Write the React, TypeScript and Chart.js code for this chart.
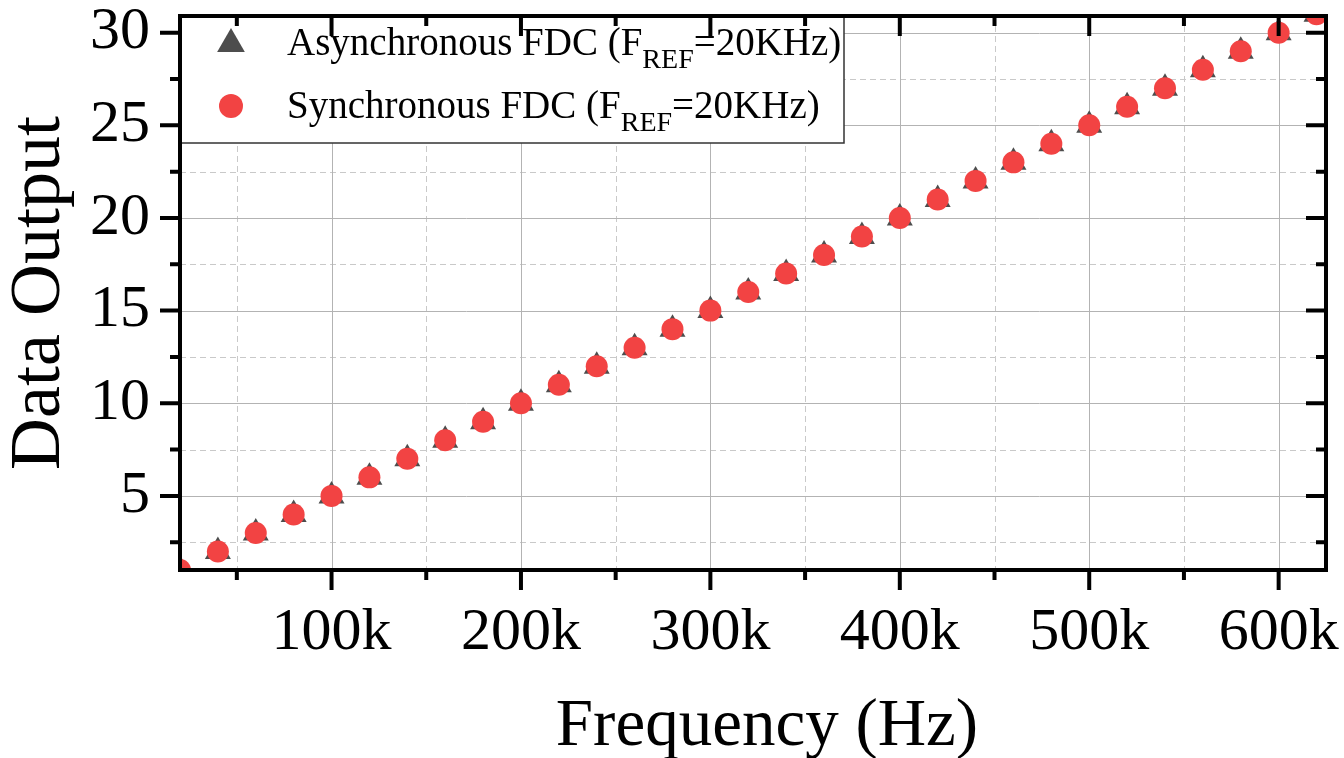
import React, { useEffect, useRef } from 'react';
import { Chart, registerables } from 'chart.js';

Chart.register(...registerables);

// ---- data ----
const frequencies = [
  20000, 40000, 60000, 80000, 100000, 120000, 140000, 160000, 180000, 200000,
  220000, 240000, 260000, 280000, 300000, 320000, 340000, 360000, 380000, 400000,
  420000, 440000, 460000, 480000, 500000, 520000, 540000, 560000, 580000, 600000, 620000,
];
const asyncOutput = [
  1, 2, 3, 4, 5, 6, 7, 8, 9, 10, 11, 12, 13, 14, 15, 16, 17, 18, 19, 20,
  21, 22, 23, 24, 25, 26, 27, 28, 29, 30, 31,
];
const syncOutput = [
  1, 2, 3, 4, 5, 6, 7, 8, 9, 10, 11, 12, 13, 14, 15, 16, 17, 18, 19, 20,
  21, 22, 23, 24, 25, 26, 27, 28, 29, 30, 31,
];
const xMajorTicks = [100000, 200000, 300000, 400000, 500000, 600000];
const xMinorTicks = [50000, 150000, 250000, 350000, 450000, 550000];
const yMajorTicks = [5, 10, 15, 20, 25, 30];
const yMinorTicks = [2.5, 7.5, 12.5, 17.5, 22.5, 27.5];
const xTitle = 'Frequency (Hz)';
const yTitle = 'Data Output';
const legendEntries = [
  { main: 'Asynchronous FDC (F', sub: 'REF', tail: '=20KHz)' },
  { main: 'Synchronous FDC (F', sub: 'REF', tail: '=20KHz)' },
];

const SERIF = '"Liberation Serif", "Times New Roman", serif';
const TRI_COLOR = '#4d4d4d';
const DOT_COLOR = '#f24343';

const zeroPadding = (s: any) => {
  s.paddingLeft = 0;
  s.paddingRight = 0;
  s.paddingTop = 0;
  s.paddingBottom = 0;
};

const decorPlugin = {
  id: 'decor',
  beforeDatasetsDraw(chart: any) {
    const { ctx, chartArea: a, scales } = chart;
    const x = scales.x;
    const y = scales.y;
    ctx.save();
    ctx.lineWidth = 1;
    // minor dashed grid
    ctx.strokeStyle = '#c9c9c9';
    ctx.setLineDash([6, 4]);
    ctx.beginPath();
    for (const v of xMinorTicks) {
      const p = Math.round(x.getPixelForValue(v)) + 0.5;
      ctx.moveTo(p, a.top);
      ctx.lineTo(p, a.bottom);
    }
    for (const v of yMinorTicks) {
      const p = Math.round(y.getPixelForValue(v)) + 0.5;
      ctx.moveTo(a.left, p);
      ctx.lineTo(a.right, p);
    }
    ctx.stroke();
    // major solid grid
    ctx.setLineDash([]);
    ctx.strokeStyle = '#b3b3b3';
    ctx.beginPath();
    for (const v of xMajorTicks) {
      const p = Math.round(x.getPixelForValue(v)) + 0.5;
      ctx.moveTo(p, a.top);
      ctx.lineTo(p, a.bottom);
    }
    for (const v of yMajorTicks) {
      const p = Math.round(y.getPixelForValue(v)) + 0.5;
      ctx.moveTo(a.left, p);
      ctx.lineTo(a.right, p);
    }
    ctx.stroke();
    ctx.restore();
  },
  afterDatasetsDraw(chart: any) {
    const { ctx, chartArea: a, scales } = chart;
    const x = scales.x;
    const y = scales.y;
    ctx.save();

    // legend box
    const lx = a.left, ly = a.top, lw = 664, lh = 127;
    ctx.fillStyle = '#ffffff';
    ctx.fillRect(lx, ly, lw, lh);
    ctx.strokeStyle = '#333333';
    ctx.lineWidth = 1.5;
    ctx.strokeRect(lx, ly, lw, lh);

    // legend markers
    ctx.fillStyle = TRI_COLOR;
    const tcx = 231, tcy = 44, tr = 16;
    ctx.beginPath();
    for (let i = 0; i < 3; i++) {
      const ang = (i * 2 * Math.PI) / 3;
      const px = tcx + Math.sin(ang) * tr;
      const py = tcy - Math.cos(ang) * tr;
      if (i === 0) ctx.moveTo(px, py);
      else ctx.lineTo(px, py);
    }
    ctx.closePath();
    ctx.fill();
    ctx.fillStyle = DOT_COLOR;
    ctx.beginPath();
    ctx.arc(231, 106, 12, 0, Math.PI * 2);
    ctx.fill();

    // legend text
    ctx.fillStyle = '#000000';
    ctx.textBaseline = 'alphabetic';
    ctx.textAlign = 'left';
    const baselines = [55, 118];
    legendEntries.forEach((e, i) => {
      let cx = 287;
      const by = baselines[i];
      ctx.font = `39px ${SERIF}`;
      ctx.fillText(e.main, cx, by);
      cx += ctx.measureText(e.main).width;
      ctx.font = `28px ${SERIF}`;
      ctx.fillText(e.sub, cx, by + 13);
      cx += ctx.measureText(e.sub).width;
      ctx.font = `39px ${SERIF}`;
      ctx.fillText(e.tail, cx, by);
    });

    // frame
    ctx.strokeStyle = '#000000';
    ctx.lineWidth = 4;
    ctx.strokeRect(a.left, a.top, a.right - a.left, a.bottom - a.top);

    // tick marks
    ctx.beginPath();
    const major = 20, minor = 10;
    for (const v of xMajorTicks) {
      const p = x.getPixelForValue(v);
      ctx.moveTo(p, a.bottom); ctx.lineTo(p, a.bottom + major);
      ctx.moveTo(p, a.top); ctx.lineTo(p, a.top + major);
    }
    for (const v of xMinorTicks) {
      const p = x.getPixelForValue(v);
      ctx.moveTo(p, a.bottom); ctx.lineTo(p, a.bottom + minor);
      ctx.moveTo(p, a.top); ctx.lineTo(p, a.top + minor);
    }
    for (const v of yMajorTicks) {
      const p = y.getPixelForValue(v);
      ctx.moveTo(a.left, p); ctx.lineTo(a.left - major, p);
      ctx.moveTo(a.right, p); ctx.lineTo(a.right - major, p);
    }
    for (const v of yMinorTicks) {
      const p = y.getPixelForValue(v);
      ctx.moveTo(a.left, p); ctx.lineTo(a.left - minor, p);
      ctx.moveTo(a.right, p); ctx.lineTo(a.right - minor, p);
    }
    ctx.stroke();

    // x axis title
    ctx.fillStyle = '#000000';
    ctx.font = `67px ${SERIF}`;
    ctx.textAlign = 'center';
    ctx.textBaseline = 'alphabetic';
    ctx.fillText(xTitle, 767, 745);
    ctx.restore();
  },
};

export default function App() {
  const canvasRef = useRef<HTMLCanvasElement | null>(null);

  useEffect(() => {
    if (!canvasRef.current) return;
    const chart = new Chart(canvasRef.current, {
      type: 'scatter',
      data: {
        datasets: [
          {
            label: 'Synchronous FDC',
            data: frequencies.map((f, i) => ({ x: f, y: syncOutput[i] })),
            pointStyle: 'circle',
            pointRadius: 11,
            pointHoverRadius: 11,
            backgroundColor: DOT_COLOR,
            borderWidth: 0,
            showLine: false,
            clip: 0,
            order: 1,
          },
          {
            label: 'Asynchronous FDC',
            data: frequencies.map((f, i) => ({ x: f, y: asyncOutput[i] })),
            pointStyle: 'triangle',
            pointRadius: 15,
            pointHoverRadius: 15,
            backgroundColor: TRI_COLOR,
            borderWidth: 0,
            showLine: false,
            clip: 0,
            order: 2,
          },
        ],
      },
      options: {
        animation: false,
        responsive: false,
        maintainAspectRatio: false,
        events: [],
        layout: { padding: { left: 0, right: 18, top: 16, bottom: 0 } },
        plugins: {
          legend: { display: false },
          tooltip: { enabled: false },
          title: { display: false },
        },
        scales: {
          x: {
            type: 'linear',
            min: 20000,
            max: 625000,
            grid: { display: false, drawTicks: false },
            border: { display: false },
            afterBuildTicks: (s: any) => {
              s.ticks = xMajorTicks.map((v) => ({ value: v }));
            },
            afterFit: (s: any) => {
              s.height = 188;
              zeroPadding(s);
            },
            ticks: {
              autoSkip: false,
              maxRotation: 0,
              padding: 33,
              color: '#000000',
              font: { family: SERIF, size: 60, lineHeight: 1 },
              callback: (v: any) => `${Number(v) / 1000}k`,
            },
          },
          y: {
            type: 'linear',
            min: 1,
            max: 30.9,
            grid: { display: false, drawTicks: false },
            border: { display: false },
            afterBuildTicks: (s: any) => {
              s.ticks = yMajorTicks.map((v) => ({ value: v }));
            },
            afterFit: (s: any) => {
              s.width = 180;
              zeroPadding(s);
            },
            title: {
              display: true,
              text: yTitle,
              color: '#000000',
              font: { family: SERIF, size: 72, lineHeight: 1 },
              padding: { top: 4, bottom: 0 },
            },
            ticks: {
              autoSkip: false,
              padding: 30,
              color: '#000000',
              font: { family: SERIF, size: 60, lineHeight: 1 },
              callback: (v: any) => `${v}`,
            },
          },
        },
      },
      plugins: [decorPlugin],
    });
    return () => chart.destroy();
  }, []);

  return (
    <div style={{ position: 'fixed', left: 0, top: 0, width: 1344, height: 758, background: '#ffffff' }}>
      <canvas ref={canvasRef} width={1344} height={758} style={{ display: 'block', width: 1344, height: 758 }} />
    </div>
  );
}
